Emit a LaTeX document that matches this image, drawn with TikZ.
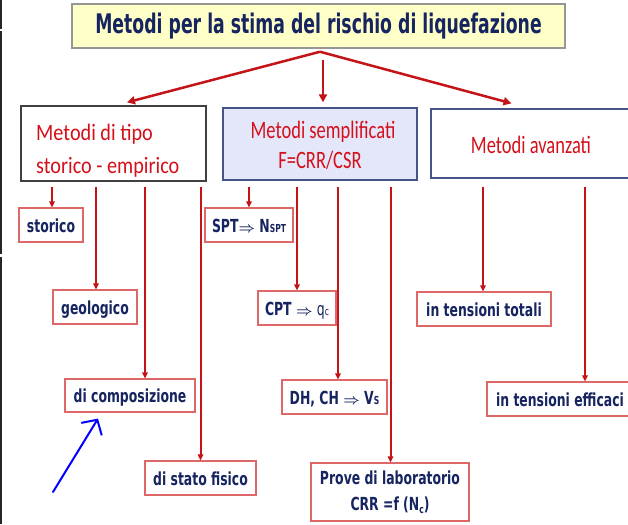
\documentclass[tikz,border=0pt]{standalone}
\usepackage{fontspec}
\usetikzlibrary{arrows.meta}
\newfontfamily\titlefont{DejaVu Sans}[FakeStretch=0.64]
\newfontfamily\labfont{DejaVu Sans}[FakeStretch=0.69]
\newfontfamily\redfonta{Carlito}[FakeStretch=0.86]
\newfontfamily\redfontb{Carlito}[FakeStretch=0.74]
\newcommand{\dimp}{{\fontsize{15.5}{15.5}\selectfont$\boldsymbol{\Rightarrow}$}}
\usepackage{amsmath,amsbsy}
\definecolor{navy}{RGB}{22,36,96}
\definecolor{txtred}{RGB}{212,16,26}
\definecolor{arrred}{RGB}{196,20,24}
\definecolor{pinkbd}{RGB}{222,104,104}
\definecolor{titlefill}{RGB}{255,255,200}
\definecolor{titlebd}{RGB}{150,150,150}
\definecolor{lav}{RGB}{228,230,250}
\definecolor{slate}{RGB}{70,84,136}
\begin{document}
\begin{tikzpicture}[x=1pt,y=-1pt,
  titlebox/.style={draw=titlebd, fill=titlefill, line width=1.5pt, inner sep=0pt,
    font=\titlefont\bfseries\fontsize{27}{30}\selectfont, text=navy},
  catbox/.style={line width=1.3pt, inner sep=0pt},
  redA/.style={inner sep=0pt, text=txtred, font=\redfonta\fontsize{23.5}{33}\selectfont},
  redB/.style={inner sep=0pt, text=txtred, font=\redfontb\fontsize{25}{30}\selectfont},
  child/.style={draw=pinkbd, fill=white, line width=1.2pt, inner sep=0pt,
    text height=15pt, text depth=1pt,
    font=\labfont\bfseries\fontsize{18}{26}\selectfont, text=navy, align=center},
  bigarr/.style={draw=arrred, line width=2.5pt, -{Triangle[length=8pt,width=8pt]}},
  arr/.style={draw=arrred, line width=2pt, -{Triangle[length=6pt,width=5.5pt]}},
  bluearr/.style={draw=blue, line width=2pt, line cap=round, -{Straight Barb[length=11pt,width=24pt]}},
  edge/.style={draw=black!85, line width=1.2pt},
]
\useasboundingbox (0,0) rectangle (628,524);
\clip (0,0) rectangle (628,524);
\fill[white] (0,0) rectangle (628,524);

% left slide edge
\draw[edge] (1,0) -- (1,29);
\draw[edge] (1,31) -- (1,254);
\draw[edge] (1,257) -- (1,524);

% title
\node[titlebox, minimum width=493pt, minimum height=44pt] (title) at (318.5,26)
  {Metodi per la stima del rischio di liquefazione};

% category boxes
\node[catbox, draw=black!75, fill=white, minimum width=185pt, minimum height=75pt] (hist) at (113.5,143.5) {};
\node[redA, anchor=base west] (hist1) at (36,140) {Metodi di tipo};
\node[redA, anchor=base west] (hist2) at (36,173) {storico - empirico};

\node[catbox, draw=slate, fill=lav, minimum width=194pt, minimum height=72pt] (semi) at (320,144) {};
\node[redB, anchor=base] (semi1) at (323,138) {Metodi semplificati};
\node[redB, anchor=base] (semi2) at (320,168) {F=CRR/CSR};

\node[catbox, draw=slate, fill=white, minimum width=200pt, minimum height=69pt] (avz) at (531,143.5) {};
\node[redB, anchor=base] (avz1) at (531,153) {Metodi avanzati};

% children
\node[child, minimum width=64pt, minimum height=34pt] (stor) at (51,225) {storico};
\node[child, minimum width=84pt, minimum height=34pt] (geo) at (95,307) {geologico};
\node[child, minimum width=130pt, minimum height=33pt] (comp) at (130,395.5) {di composizione};
\node[child, minimum width=111pt, minimum height=34pt] (stato) at (200.5,478) {di stato fisico};

\node[child, minimum width=88pt, minimum height=34pt] (spt) at (249,225)
  {SPT\dimp\ N{\fontsize{11}{11}\selectfont SPT}};
\node[child, minimum width=78pt, minimum height=34pt] (cpt) at (297,308)
  {CPT \dimp\ {\mdseries q}{\mdseries\fontsize{11}{11}\selectfont c}};
\node[child, minimum width=105pt, minimum height=34pt] (dh) at (334.5,397)
  {DH, CH \dimp\ V{\fontsize{11}{11}\selectfont S}};
\node[draw=pinkbd, fill=white, line width=1.2pt, inner sep=0pt, text=navy, align=center,
  font=\labfont\bfseries\fontsize{18}{26}\selectfont,
  minimum width=158pt, minimum height=58pt] (prove) at (390,492)
  {Prove di laboratorio\\CRR =f (N\raisebox{-3pt}{\fontsize{11}{11}\selectfont c})};

\node[child, minimum width=134pt, minimum height=34pt] (tot) at (484,309) {in tensioni totali};
\node[child, minimum width=146pt, minimum height=34pt] (eff) at (560,399) {in tensioni efficaci};

% main arrows
\coordinate (ts) at ([shift={(1.5pt,-3pt)}]title.south);
\coordinate (tm) at ([shift={(4.5pt,-11pt)}]title.south);
\coordinate (h1) at ([shift={(13.5pt,3pt)}]hist.north);
\coordinate (h2) at ([shift={(3pt,5pt)}]semi.north);
\coordinate (h3) at ([shift={(-19.5pt,5pt)}]avz.north);
\draw[bigarr] (ts) -- (h1);
\draw[bigarr] (tm) -- (h2);
\draw[bigarr] (ts) -- (h3);

% child arrow tips
\coordinate (c1) at ([xshift=1pt]stor.north);
\coordinate (c2) at ([xshift=1pt]geo.north);
\coordinate (c3) at ([xshift=15pt]comp.north);
\coordinate (c4) at ([xshift=0pt]stato.north);
\coordinate (c5) at ([xshift=0pt]spt.north);
\coordinate (c6) at ([xshift=0pt]cpt.north);
\coordinate (c7) at ([xshift=3.5pt]dh.north);
\coordinate (c8) at ([xshift=0.5pt]prove.north);
\coordinate (c9) at ([xshift=-1pt]tot.north);
\coordinate (c10) at ([xshift=25pt]eff.north);

\draw[arr] (hist.south -| c1) ++(0,5) -- (c1);
\draw[arr] (hist.south -| c2) ++(0,5) -- (c2);
\draw[arr] (hist.south -| c3) ++(0,5) -- (c3);
\draw[arr] (hist.south -| c4) ++(0,5) -- (c4);
\draw[arr] (semi.south -| c5) ++(0,6) -- (c5);
\draw[arr] (semi.south -| c6) ++(0,6) -- (c6);
\draw[arr] (semi.south -| c7) ++(0,6) -- (c7);
\draw[arr] (semi.south -| c8) ++(0,6) -- (c8);
\draw[arr] (avz.south -| c9) ++(0,8) -- (c9);
\draw[arr] (avz.south -| c10) ++(0,8) -- (c10);

% blue pointer
\coordinate (btip) at ([shift={(-32pt,-6pt)}]comp.south);
\coordinate (btail) at (53,492);
\draw[bluearr] (btail) -- (btip);
\end{tikzpicture}
\end{document}
